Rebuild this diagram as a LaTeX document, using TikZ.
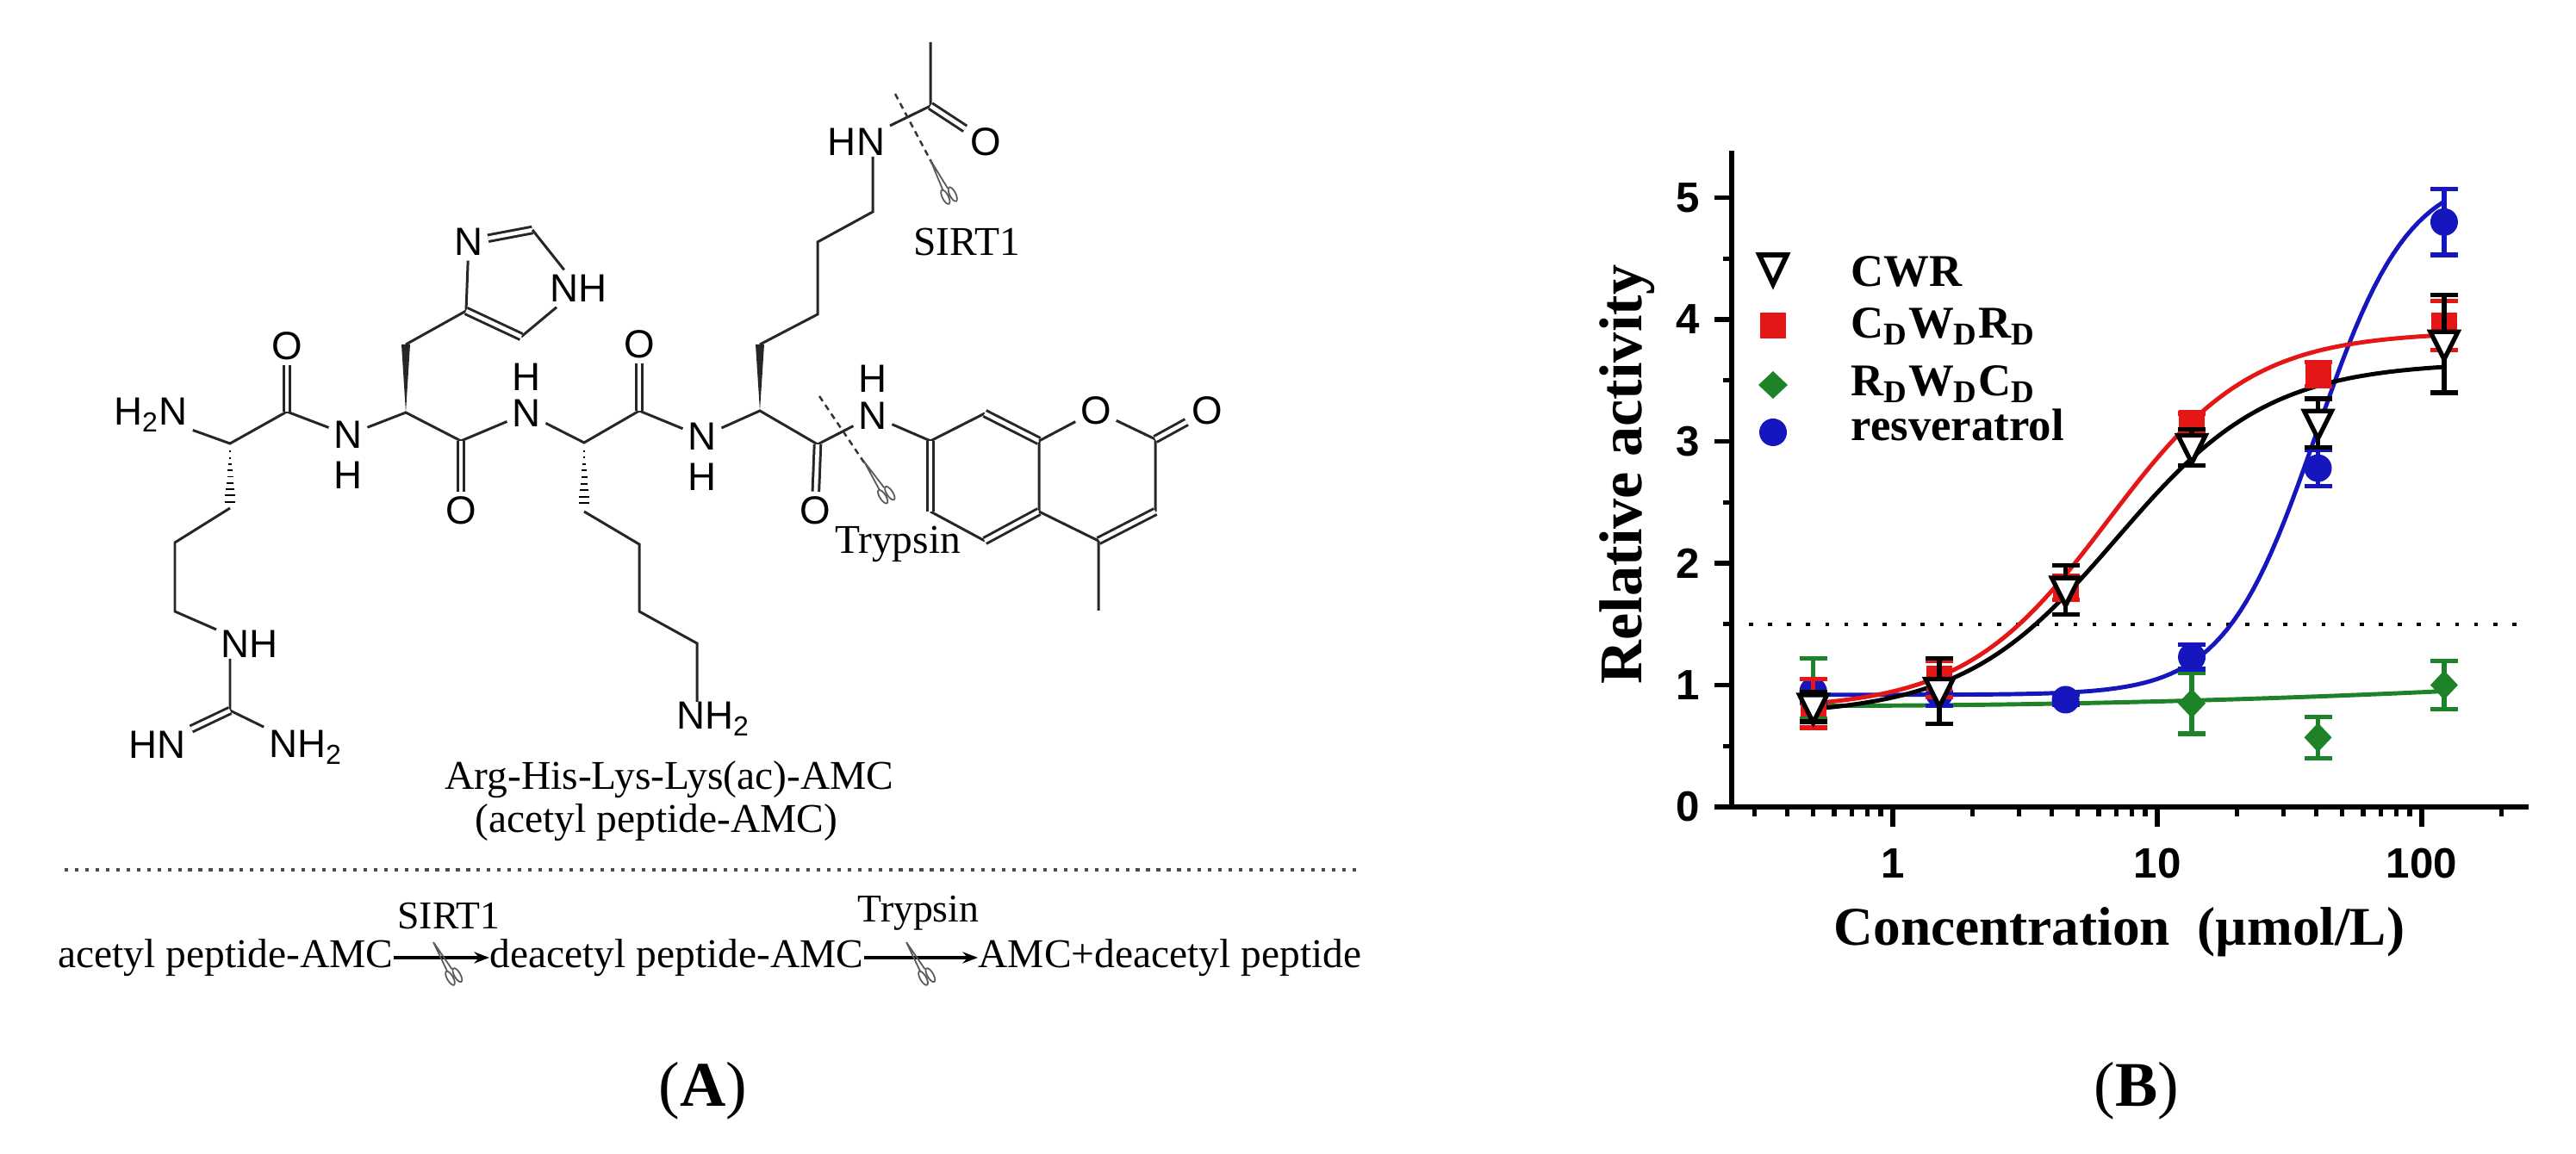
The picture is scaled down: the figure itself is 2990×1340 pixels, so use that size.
\documentclass[tikz,border=0pt]{standalone}
\usepackage{fontspec}
\setmainfont{Liberation Serif}
\newfontfamily\chemf{Liberation Sans}
\usetikzlibrary{calc,arrows.meta}
\definecolor{cred}{RGB}{228,22,22}
\definecolor{cgreen}{RGB}{30,130,40}
\definecolor{cblue}{RGB}{22,22,190}
\tikzset{
 bond/.style={line width=0.85pt,black!85},
 dbond/.style={bond,double,double distance=1.3pt},
 atom/.style={font=\chemf\fontsize{13}{13}\selectfont,inner sep=1.5pt},
 hatom/.style={atom,inner sep=0pt,text depth=0pt},
 stxt/.style={font=\fontsize{13.5}{14}\selectfont,inner sep=0pt},
 cut/.style={line width=0.7pt,dash pattern=on 2pt off 1.5pt,black!80},
 axisl/.style={line width=1.5pt},
 tickl/.style={font=\chemf\bfseries\fontsize{14}{14}\selectfont},
 leg/.style={font=\bfseries\fontsize{15}{16}\selectfont,anchor=base west,inner sep=0pt},
 ebar/.style={line width=1.5pt},
 crv/.style={line width=1.4pt},
 scis/.pic={\draw[black!65,line width=0.5pt] (0,0) -- (3,38) (0,0) -- (-3,38);
   \draw[black!65,line width=0.5pt] (-4,46) ellipse (3.5 and 9) (5,47) ellipse (3.5 and 9);}
}
\begin{document}
\begin{tikzpicture}[x=0.01cm,y=-0.01cm]
\useasboundingbox (0,0) rectangle (2990,1340);
% ---------- structure ----------
\node[atom] (h2n) at (175,482) {H\textsubscript{2}N};
\coordinate (ca1) at (267,515);
\coordinate (c1) at (333,478);
\node[atom] (o1) at (333,402) {O};
\node[atom] (n2) at (404,505) {N};
\node[hatom] (h2) at (404,552) {H};
\coordinate (s1) at (267,590); \coordinate (s2) at (203,630); \coordinate (s3) at (203,710);
\node[atom] (nhg) at (290,748) {NH};
\coordinate (cg) at (267,825);
\node[atom] (hng) at (183,865) {HN};
\node[atom] (nh2g) at (355,868) {NH\textsubscript{2}};
\draw[bond] (h2n) -- (ca1) -- (c1) -- (n2);
\draw[dbond] (c1) -- (o1);
\foreach \i in {0,...,9} \draw[line width=0.55pt] ({267-0.7*\i},{517+7.3*\i}) -- ({267+0.7*\i},{517+7.3*\i});
\draw[bond] (s1) -- (s2) -- (s3) -- (nhg);
\draw[bond] (267,765) -- (cg) -- (nh2g);
\draw[dbond] (cg) -- (hng);
% His
\coordinate (ca2) at (471,479); \coordinate (cb2) at (471,400);
\coordinate (c4i) at (541,361); \node[atom] (n3i) at (544,281) {N};
\coordinate (c2i) at (618,267); \node[atom] (n1i) at (672,335) {NH};
\coordinate (c5i) at (605,391);
\coordinate (c3) at (535,512); \node[atom] (o3) at (535,593) {O};
\node[atom] (n4) at (611,480) {N}; \node[hatom] (h4) at (611,438) {H};
\draw[bond] (n2) -- (ca2) -- (c3) -- (n4);
\draw[dbond] (c3) -- (o3);
\fill[black!85] (ca2) -- ($(cb2)+(5,0)$) -- ($(cb2)+(-5,0)$) -- cycle;
\draw[bond] (cb2) -- (c4i) -- (n3i);
\draw[dbond] (n3i) -- (c2i);
\draw[bond] (c2i) -- (n1i) -- (c5i);
\draw[dbond] (c5i) -- (c4i);
% Lys1
\coordinate (ca3) at (678,514); \coordinate (c5c) at (742,477);
\node[atom] (o5) at (742,400) {O};
\node[atom] (n6) at (815,507) {N}; \node[hatom] (h6) at (815,554) {H};
\node[atom] (nh2k) at (828,835) {NH\textsubscript{2}};
\draw[bond] (n4) -- (ca3) -- (c5c) -- (n6);
\draw[dbond] (c5c) -- (o5);
\foreach \i in {0,...,9} \draw[line width=0.55pt] ({678-0.7*\i},{516+7.6*\i}) -- ({678+0.7*\i},{516+7.6*\i});
\draw[bond] (678,594) -- (742,632) -- (742,710) -- (809,747) -- (809,815);
% Lys2
\coordinate (ca4) at (882,477); \coordinate (cb4) at (882,400);
\node[atom] (hnk) at (994,165) {HN};
\coordinate (cac) at (1080,123);
\node[atom] (oac) at (1144,165) {O};
\coordinate (c7c) at (949,516);
\node[atom] (o7) at (946,593) {O};
\node[atom] (n8) at (1013,483) {N}; \node[hatom] (h8) at (1013,440) {H};
\draw[bond] (n6) -- (ca4) -- (c7c) -- (n8);
\draw[dbond] (c7c) -- (o7);
\fill[black!85] (ca4) -- ($(cb4)+(5,0)$) -- ($(cb4)+(-5,0)$) -- cycle;
\draw[bond] (cb4) -- (949,365) -- (949,281) -- (1013,246) -- (1013,182);
\draw[bond] (hnk) -- (cac) -- (1080,49);
\draw[dbond] (cac) -- (oac);
% cuts
\draw[cut] (1039,109) -- (1082,190);
\pic[rotate=27] at (1080,186) {scis};
\node[stxt] (sirt) at (1122,281) {SIRT1};
\draw[cut] (951,460) -- (1005,540);
\pic[rotate=33] at (1003,536) {scis};
\node[stxt] (tryp) at (1042,632) {Trypsin};
% AMC
\coordinate (r1) at (1080,512); \coordinate (r2) at (1143,480); \coordinate (r3) at (1206,512);
\coordinate (r4) at (1206,594); \coordinate (r5) at (1143,628); \coordinate (r6) at (1080,594);
\node[atom] (or) at (1272,477) {O};
\coordinate (p2) at (1341,510); \node[atom] (op) at (1401,477) {O};
\coordinate (p3) at (1341,594); \coordinate (p4) at (1275,628);
\draw[bond] (n8) -- (r1);
\draw[bond] (r1) -- (r2) (r3) -- (r4) (r5) -- (r6);
\draw[dbond] (r2) -- (r3); \draw[dbond] (r4) -- (r5); \draw[dbond] (r6) -- (r1);
\draw[bond] (r3) -- (or) -- (p2) -- (p3);
\draw[dbond] (p2) -- (op);
\draw[dbond] (p3) -- (p4);
\draw[bond] (p4) -- (r4) (p4) -- (1275,709);
\node[stxt] (name1) at (777,905) {Arg-His-Lys-Lys(ac)-AMC};
\node[stxt] (name2) at (762,955) {(acetyl peptide-AMC)};
\draw[line width=0.9pt,dash pattern=on 1.2pt off 2.2pt,black!70] (75,1010) -- (1578,1010);
% scheme
\node[stxt,anchor=east] (t1) at (457,1112) {acetyl peptide-AMC};
\node[stxt,anchor=west] (t2) at (568,1112) {deacetyl peptide-AMC};
\node[stxt,anchor=west] (t3) at (1135,1112) {AMC+deacetyl peptide};
\draw[line width=1pt,-{Stealth[length=5pt]}] (t1.east) -- (t2.west);
\draw[line width=1pt,-{Stealth[length=5pt]}] (t2.east) -- (t3.west);
\node[stxt,font=\fontsize{13}{13}\selectfont] (s1l) at (521,1064) {SIRT1};
\node[stxt,font=\fontsize{13}{13}\selectfont] (s2l) at (1066,1060) {Trypsin};
\pic[rotate=30] at (503,1094) {scis};
\pic[rotate=30] at (1052,1094) {scis};
\node[font=\fontsize{21}{21}\selectfont] (labA) at (816,1267) {(\textbf{A})};
% ---------- chart ----------
\draw[axisl] (2010,937) -- (2010,175);
\draw[axisl] (1994,937) -- (2935,937);
\foreach \v in {0,...,5} {\draw[axisl] (1990,{937-141.5*\v}) -- (2010,{937-141.5*\v});
  \node[tickl,anchor=east] (yl\v) at (1985,{937-141.5*\v}) {\v};}
\foreach \v in {0.5,1.5,2.5,3.5,4.5} \draw[axisl] (2000,{937-141.5*\v}) -- (2010,{937-141.5*\v});
\foreach \d in {0.1,1,10,100} \foreach \m in {2,...,9} {
  \pgfmathsetmacro\xx{2197+307*log10(\d*\m)}
  \ifdim\xx pt>2020pt \ifdim\xx pt<2930pt \draw[axisl] (\xx,937) -- (\xx,948); \fi\fi}
\foreach \d/\lab in {0/1,1/10,2/100} {\draw[axisl] ({2197+307*\d},937) -- ({2197+307*\d},960);
  \node[tickl] (xl\d) at ({2197+307*\d},1003) {\lab};}
\draw[line width=1.3pt,dash pattern=on 1.3pt off 5pt] (2030,725) -- (2935,725);
\node[font=\bfseries\fontsize{20}{20}\selectfont,rotate=90] (ylab) at (1889,551) {Relative activity};
\node[font=\bfseries\fontsize{18}{18}\selectfont] (xlab) at (2460,1082) {Concentration\ \ (µmol/L)};
% curves
\draw[crv,cgreen,domain=-0.301:2.085,samples=40,variable=\t] plot ({2197+307*\t},{937-141.5*(0.83+0.12*((\t+0.301)/2.386)^2)});
\draw[crv,cblue,domain=-0.301:2.085,samples=100,variable=\t] plot ({2197+307*\t},{937-141.5*(0.92+4.3/(1+exp(min(9,2.302585*2.5*(1.602-\t)))))});
\draw[crv,cred,domain=-0.301:2.085,samples=100,variable=\t] plot ({2197+307*\t},{937-141.5*(0.8+3.1/(1+exp(min(9,2.302585*1.6*(0.813-\t)))))});
\draw[crv,black,domain=-0.301:2.085,samples=100,variable=\t] plot ({2197+307*\t},{937-141.5*(0.75+2.9/(1+exp(min(9,2.302585*1.5*(0.845-\t)))))});
% data
\foreach \c/\v/\e in {0.5/0.97/0.25,13.5/0.85/0.25,40.5/0.57/0.17,121.5/1.0/0.2} {
  \pgfmathsetmacro\px{2197+307*log10(\c)}\pgfmathsetmacro\py{937-141.5*\v}\pgfmathsetmacro\pe{141.5*\e}
  \draw[ebar,cgreen] (\px-16,\py-\pe) -- (\px+16,\py-\pe) (\px,\py-\pe) -- (\px,\py+\pe) (\px-16,\py+\pe) -- (\px+16,\py+\pe);
  \fill[cgreen] (\px,\py-17) -- (\px+16,\py) -- (\px,\py+17) -- (\px-16,\py) -- cycle;}
\foreach \c/\v/\e in {0.5/0.95/0.1,1.5/0.93/0.1,4.5/0.88/0.04,13.5/1.23/0.1,40.5/2.78/0.15,121.5/4.8/0.27} {
  \pgfmathsetmacro\px{2197+307*log10(\c)}\pgfmathsetmacro\py{937-141.5*\v}\pgfmathsetmacro\pe{141.5*\e}
  \draw[ebar,cblue] (\px-16,\py-\pe) -- (\px+16,\py-\pe) (\px,\py-\pe) -- (\px,\py+\pe) (\px-16,\py+\pe) -- (\px+16,\py+\pe);
  \fill[cblue] (\px,\py) circle (16);}
\foreach \c/\v/\e in {0.5/0.85/0.2,1.5/1.05/0.15,4.5/1.8/0.1,13.5/3.15/0.08,40.5/3.55/0.1,121.5/3.95/0.2} {
  \pgfmathsetmacro\px{2197+307*log10(\c)}\pgfmathsetmacro\py{937-141.5*\v}\pgfmathsetmacro\pe{141.5*\e}
  \draw[ebar,cred] (\px-16,\py-\pe) -- (\px+16,\py-\pe) (\px,\py-\pe) -- (\px,\py+\pe) (\px-16,\py+\pe) -- (\px+16,\py+\pe);
  \fill[cred] (\px-15,\py-15) rectangle (\px+15,\py+15);}
\foreach \c/\v/\e in {0.5/0.82/0.12,1.5/0.95/0.27,4.5/1.78/0.2,13.5/2.95/0.15,40.5/3.15/0.2,121.5/3.8/0.4} {
  \pgfmathsetmacro\px{2197+307*log10(\c)}\pgfmathsetmacro\py{937-141.5*\v}\pgfmathsetmacro\pe{141.5*\e}
  \draw[ebar,black] (\px-16,\py-\pe) -- (\px+16,\py-\pe) (\px,\py-\pe) -- (\px,\py+\pe) (\px-16,\py+\pe) -- (\px+16,\py+\pe);
  \draw[line width=1.5pt,fill=white] (\px-16,\py-14) -- (\px+16,\py-14) -- (\px,\py+18) -- cycle;}
% legend
\draw[line width=1.6pt,fill=white] (2042,296) -- (2074,296) -- (2058,330) -- cycle;
\node[leg] (lg1) at (2148,333) {CWR};
\fill[cred] (2043,363) rectangle (2073,393);
\node[leg] (lg2) at (2148,393) {C\textsubscript{D}W\textsubscript{D}R\textsubscript{D}};
\fill[cgreen] (2058,431) -- (2075,447) -- (2058,463) -- (2041,447) -- cycle;
\node[leg] (lg3) at (2148,460) {R\textsubscript{D}W\textsubscript{D}C\textsubscript{D}};
\fill[cblue] (2058,502) circle (16);
\node[leg] (lg4) at (2148,512) {resveratrol};
\node[font=\fontsize{21}{21}\selectfont] (labB) at (2480,1267) {(\textbf{B})};
\end{tikzpicture}
\end{document}
